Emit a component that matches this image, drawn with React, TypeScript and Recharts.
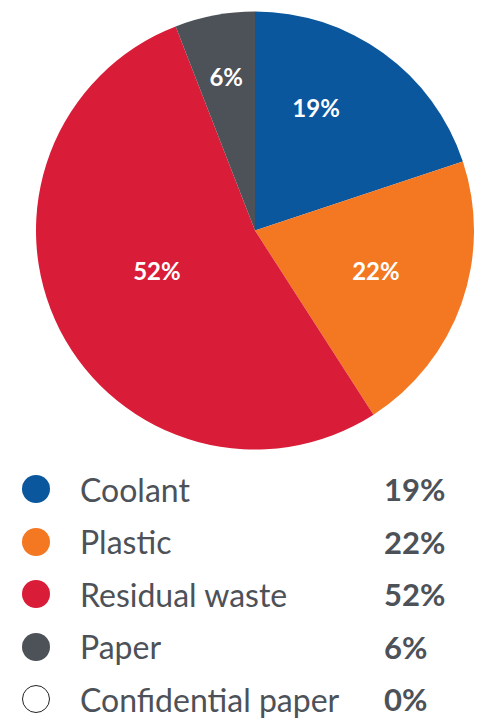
import * as React from "react";
import { Pie, PieChart, Cell } from "recharts";

const categories = ["Coolant", "Plastic", "Residual waste", "Paper", "Confidential paper"];
// slice sizes; printed figures below
const shares = [19.9, 21.0, 53.2, 5.9, 0];
const percentLabels = ["19%", "22%", "52%", "6%", "0%"];
const colors = ["#0a579e", "#f47721", "#d91c37", "#4d5158", "#ffffff"];

// label placement inside each slice: radius fraction and angle nudge (deg)
const LABEL_R = [0.629, 0.581, 0.483, 0.714, 0.6];
const LABEL_NUDGE = [9.5, 1.3, -5, 0, 0];

const TEXT = "#4d5158";
const FONT = "Lato, 'Open Sans', sans-serif";

const data = categories.map((name, i) => ({ name, value: shares[i], label: percentLabels[i] }));

const RAD = Math.PI / 180;

function SliceLabel(props: any) {
  const { cx, cy, midAngle, outerRadius, value, index } = props;
  if (!value) return null;
  const r = outerRadius * LABEL_R[index];
  const a = midAngle + LABEL_NUDGE[index];
  const x = cx + r * Math.cos(-a * RAD);
  const y = cy + r * Math.sin(-a * RAD);
  return (
    <text
      x={x}
      y={y}
      fill="#ffffff"
      fontFamily={FONT}
      fontWeight={700}
      fontSize={24}
      textAnchor="middle"
      dominantBaseline="central"
    >
      {data[index].label}
    </text>
  );
}

function LegendRows() {
  return (
    <div style={{ fontFamily: FONT, color: TEXT }}>
      {data.map((d, i) => (
        <div key={d.name} style={{ display: "flex", alignItems: "center", height: 52.5 }}>
          <span
            style={{
              width: 28,
              height: 28,
              borderRadius: "50%",
              background: colors[i],
              border: i === 4 ? "1.5px solid #222" : "none",
              boxSizing: "border-box",
              marginLeft: 22,
            }}
          />
          <span style={{ fontSize: 32, marginLeft: 30, width: 304 }}>{d.name}</span>
          <span style={{ fontSize: 31, fontWeight: 700 }}>{d.label}</span>
        </div>
      ))}
    </div>
  );
}

export default function App() {
  return (
    <div style={{ position: "absolute", left: 0, top: 0, width: 484, height: 719, background: "#fff" }}>
      <PieChart width={484} height={460} margin={{ top: 0, right: 0, bottom: 0, left: 0 }}>
        <Pie
          data={data}
          dataKey="value"
          nameKey="name"
          cx={255}
          cy={230.5}
          outerRadius={219}
          startAngle={90}
          endAngle={-270}
          stroke="none"
          label={SliceLabel}
          labelLine={false}
          isAnimationActive={false}
        >
          {data.map((d, i) => (
            <Cell key={d.name} fill={colors[i]} />
          ))}
        </Pie>
      </PieChart>
      <div style={{ position: "absolute", top: 463, left: 0, width: 484 }}>
        <LegendRows />
      </div>
    </div>
  );
}
